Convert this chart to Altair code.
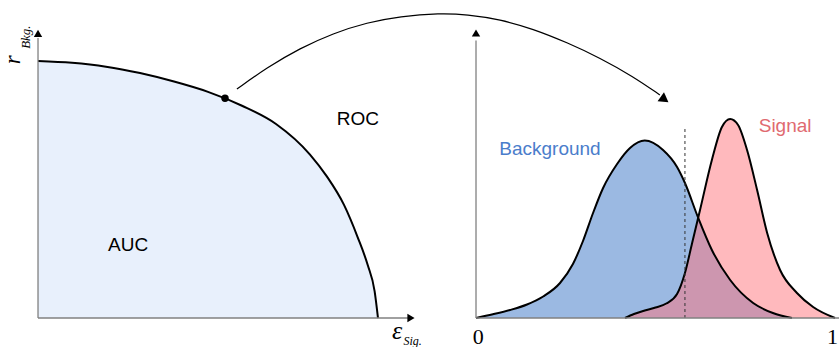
import altair as alt
import pandas as pd

# ---------------- ROC panel (signal efficiency vs background rejection) ----------------
roc_eff = [0.0, 0.1, 0.2, 0.3, 0.4, 0.5, 0.6, 0.7, 0.8, 0.85, 0.9, 0.94, 0.97, 0.99, 1.0]
roc_rej = [1.0, 0.993, 0.978, 0.953, 0.920, 0.880, 0.826, 0.755, 0.636, 0.550, 0.440, 0.315, 0.205, 0.105, 0.0]

# working point on the ROC curve
wp_eff = [0.55]
wp_rej = [0.855]

# curved arrow from the working point to the cut on the classifier output
arc_x = [0.585, 0.674, 0.771, 0.868, 0.968, 1.065, 1.182, 1.262, 1.359, 1.456, 1.556, 1.653, 1.750, 1.829]
arc_y = [0.891, 0.975, 1.050, 1.108, 1.150, 1.174, 1.186, 1.181, 1.162, 1.125, 1.072, 1.012, 0.940, 0.868]
arc_head = (1.843, 0.850)

# ---------------- classifier output panel ----------------
bkg_x = [0.0, 0.047, 0.095, 0.142, 0.187, 0.234, 0.270, 0.298, 0.326, 0.354, 0.393, 0.429,
         0.470, 0.521, 0.560, 0.582, 0.618, 0.657, 0.708, 0.772, 0.827, 0.880]
bkg_y = [0.0, 0.074, 0.16, 0.27, 0.43, 0.70, 1.08, 1.54, 2.10, 2.60, 3.08, 3.40,
         3.55, 3.36, 3.02, 2.70, 2.02, 1.36, 0.76, 0.30, 0.10, 0.0]

sig_x = [0.415, 0.44, 0.47, 0.50, 0.53, 0.56, 0.582, 0.602, 0.624, 0.657, 0.685, 0.708, 0.730,
         0.755, 0.783, 0.811, 0.847, 0.894, 0.939, 1.0]
sig_y = [0.0, 0.08, 0.15, 0.21, 0.29, 0.48, 0.90, 1.50, 2.16, 3.16, 3.82, 3.98, 3.86,
         3.36, 2.56, 1.70, 0.96, 0.50, 0.22, 0.0]

cut_x = 0.582
cut_top = 3.82

# ---------------- scales (each panel has its own coordinate frame) ----------------
XL = alt.Scale(domain=[-0.1118, 2.3559], nice=False, zero=False)
YL = alt.Scale(domain=[-0.1128, 1.2374], nice=False, zero=False)
XR = alt.Scale(domain=[-1.3259, 1.0111], nice=False, zero=False)
YR = alt.Scale(domain=[-0.58, 6.36], nice=False, zero=False)

AXIS_GREY = "#808080"
SANS = "Liberation Sans"
SERIF = "Liberation Serif"


def xy(chart, xs, ys, x="x", y="y"):
    return chart.encode(
        x=alt.X(x, type="quantitative", scale=xs, axis=None),
        y=alt.Y(y, type="quantitative", scale=ys, axis=None),
    )


def label(df, xs, ys, **mark):
    return xy(alt.Chart(df).mark_text(**mark), xs, ys).encode(text="t:N")


# ---- left panel layers ----
roc = pd.DataFrame({"x": roc_eff, "y": roc_rej, "z": 0.0})
roc_area = alt.Chart(roc).mark_area(color="#e8f0fc", interpolate="monotone").encode(
    x=alt.X("x:Q", scale=XL, axis=None),
    y=alt.Y("y:Q", scale=YL, axis=None),
    y2="z:Q",
)
roc_line = xy(alt.Chart(roc).mark_line(color="black", strokeWidth=2, interpolate="monotone"), XL, YL)

left_axes_df = pd.DataFrame({"x": [0.0, 0.0], "y": [0.0, 0.0], "x2": [1.10, 0.0], "y2": [0.0, 1.09]})
left_axes = alt.Chart(left_axes_df).mark_rule(color=AXIS_GREY, strokeWidth=1.3).encode(
    x=alt.X("x:Q", scale=XL, axis=None), x2="x2:Q",
    y=alt.Y("y:Q", scale=YL, axis=None), y2="y2:Q",
)
left_head_x = xy(alt.Chart(pd.DataFrame({"x": [1.097], "y": [0.0]})).mark_point(
    shape="triangle-right", filled=True, color="black", opacity=1, size=70), XL, YL)
left_head_y = xy(alt.Chart(pd.DataFrame({"x": [0.0], "y": [1.108]})).mark_point(
    shape="triangle-up", filled=True, color="black", opacity=1, size=70), XL, YL)

wp = xy(alt.Chart(pd.DataFrame({"x": wp_eff, "y": wp_rej})).mark_point(
    filled=True, color="black", opacity=1, size=55), XL, YL)

arc = xy(alt.Chart(pd.DataFrame({"x": arc_x, "y": arc_y})).mark_line(
    color="black", strokeWidth=1.2, interpolate="basis"), XL, YL)
arc_tip = xy(alt.Chart(pd.DataFrame({"x": [arc_head[0]], "y": [arc_head[1]]})).mark_point(
    shape="triangle-right", filled=True, color="black", opacity=1, size=120, angle=36), XL, YL)

auc_txt = label(pd.DataFrame({"x": [0.265], "y": [0.262], "t": ["AUC"]}), XL, YL,
                font=SANS, fontSize=19, color="black", align="center", baseline="alphabetic")
roc_txt = label(pd.DataFrame({"x": [0.941], "y": [0.751], "t": ["ROC"]}), XL, YL,
                font=SANS, fontSize=19, color="black", align="center", baseline="alphabetic")
eps_txt = label(pd.DataFrame({"x": [1.056], "y": [-0.051], "t": ["ε"]}), XL, YL,
                font=SERIF, fontSize=26, fontStyle="italic", color="black", align="center", baseline="middle")
sig_sub = label(pd.DataFrame({"x": [1.102], "y": [-0.089], "t": ["Sig."]}), XL, YL,
                font=SERIF, fontSize=12, fontStyle="italic", color="black", align="center", baseline="middle")
# rotated axis title r_Bkg. : anchored by its top edge so it stays inside the frame
r_txt = label(pd.DataFrame({"x": [-0.1059], "y": [1.005], "t": ["r"]}), XL, YL,
              font=SERIF, fontSize=23, fontStyle="italic", color="black", align="center",
              baseline="top", angle=270)
bkg_sub = label(pd.DataFrame({"x": [-0.034], "y": [1.093], "t": ["Bkg."]}), XL, YL,
                font=SERIF, fontSize=13, fontStyle="italic", color="black", align="center",
                baseline="middle", angle=270)

left = alt.layer(roc_area, roc_line, left_axes, left_head_x, left_head_y, wp, arc, arc_tip,
                 auc_txt, roc_txt, eps_txt, sig_sub, r_txt, bkg_sub)

# ---- right panel layers ----
bkg = pd.DataFrame({"x": bkg_x, "y": bkg_y, "z": 0.0})
sig = pd.DataFrame({"x": sig_x, "y": sig_y, "z": 0.0})


def area(df, color, opacity):
    return alt.Chart(df).mark_area(color=color, opacity=opacity, interpolate="monotone").encode(
        x=alt.X("x:Q", scale=XR, axis=None),
        y=alt.Y("y:Q", scale=YR, axis=None),
        y2="z:Q",
    )


bkg_area = area(bkg, "#9bb9e2", 1.0)
sig_area = area(sig, "#ff737b", 0.5)
bkg_line = xy(alt.Chart(bkg).mark_line(color="black", strokeWidth=2, interpolate="monotone"), XR, YR)
sig_line = xy(alt.Chart(sig).mark_line(color="black", strokeWidth=2, interpolate="monotone"), XR, YR)

cut = alt.Chart(pd.DataFrame({"x": [cut_x], "y": [0.0], "y2": [cut_top]})).mark_rule(
    color="#333333", strokeWidth=1, strokeDash=[3, 3]).encode(
    x=alt.X("x:Q", scale=XR, axis=None),
    y=alt.Y("y:Q", scale=YR, axis=None), y2="y2:Q",
)

right_axes_df = pd.DataFrame({"x": [0.0, 0.0], "y": [0.0, 0.0], "x2": [1.02, 0.0], "y2": [0.0, 5.55]})
right_axes = alt.Chart(right_axes_df).mark_rule(color=AXIS_GREY, strokeWidth=1.3).encode(
    x=alt.X("x:Q", scale=XR, axis=None), x2="x2:Q",
    y=alt.Y("y:Q", scale=YR, axis=None), y2="y2:Q",
)
right_head_y = xy(alt.Chart(pd.DataFrame({"x": [0.0], "y": [5.70]})).mark_point(
    shape="triangle-up", filled=True, color="black", opacity=1, size=70), XR, YR)

tick0 = label(pd.DataFrame({"x": [0.006], "y": [-0.37], "t": ["0"]}), XR, YR,
              font=SERIF, fontSize=22, color="black", align="center", baseline="middle")
tick1 = label(pd.DataFrame({"x": [1.008], "y": [-0.37], "t": ["1"]}), XR, YR,
              font=SERIF, fontSize=22, color="black", align="right", baseline="middle")
bkg_txt = label(pd.DataFrame({"x": [0.206], "y": [3.26], "t": ["Background"]}), XR, YR,
                font=SANS, fontSize=19, color="#4a7dcb", align="center", baseline="alphabetic")
sig_txt = label(pd.DataFrame({"x": [0.861], "y": [3.73], "t": ["Signal"]}), XR, YR,
                font=SANS, fontSize=19, color="#e06a70", align="center", baseline="alphabetic")

right = alt.layer(bkg_area, sig_area, bkg_line, sig_line, cut, right_axes, right_head_y,
                  tick0, tick1, bkg_txt, sig_txt)

chart = (
    alt.layer(left, right)
    .resolve_scale(x="independent", y="independent")
    .properties(width=839, height=347, padding=0, autosize=alt.AutoSizeParams(type="none"))
    .configure_view(stroke=None)
)

chart.save("out.html", embed_options={"renderer": "svg", "actions": False})
